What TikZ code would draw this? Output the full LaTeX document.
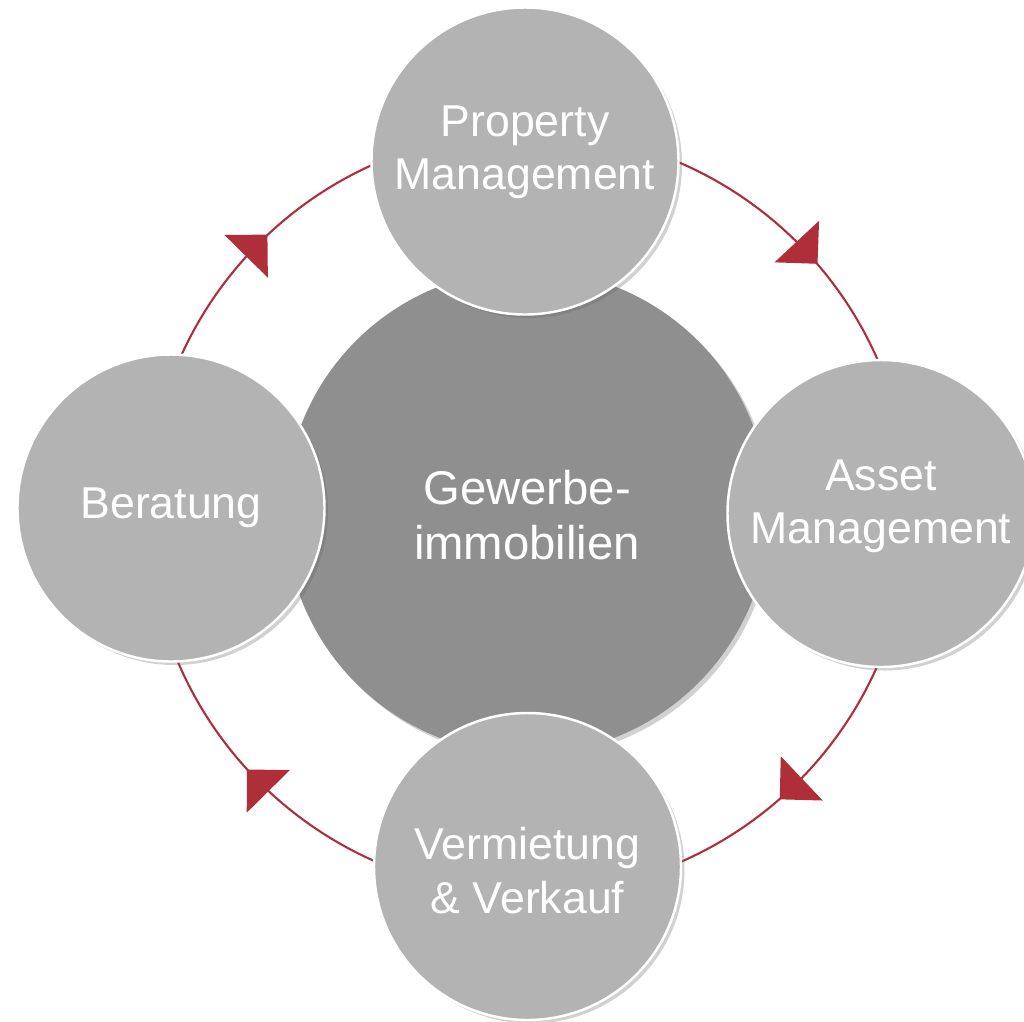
\documentclass[tikz,border=0pt]{standalone}
\usepackage{fontspec}
\setmainfont{Liberation Sans}
\usepackage{xcolor}
\usetikzlibrary{shadows}

\definecolor{ringred}{HTML}{AE2F3A}
\definecolor{outergray}{HTML}{B3B3B3}
\definecolor{coregray}{HTML}{8F8F8F}

\tikzset{
  softshadow/.style={drop shadow={shadow xshift=0.035cm, shadow yshift=-0.035cm, opacity=0.3, fill=black!60}},
  outer/.style={circle, fill=outergray, draw=white, line width=0.7pt, minimum size=3.07cm, inner sep=0pt, softshadow},
  core/.style={circle, fill=coregray, minimum size=4.84cm, inner sep=0pt, softshadow},
  lbl/.style={text=white, align=center, inner sep=0pt, font=\fontsize{12.7}{15.1}\selectfont},
  corelbl/.style={lbl, font=\fontsize{13.45}{15.65}\selectfont},
  ring/.style={draw=ringred, line width=0.6pt},
  tipfill/.style={fill=ringred}
}

\begin{document}
\begin{tikzpicture}
\useasboundingbox (0,0) rectangle (10.24,-10.21);
\coordinate (mid) at (5.285,-5.125);

% ring and arrow heads
\draw[ring] (mid) circle (3.81);
\foreach \a in {135.5,43,-46.5,-135.3}{
  \begin{scope}[shift={(mid)}, shift={(\a:3.81)}, rotate=\a-90]
    \fill[tipfill] (0.152,0) -- (-0.152,0.305) -- (-0.152,-0.305) -- cycle;
  \end{scope}
}

% centre
\node[core] (core) at (5.27,-5.12) {};
\node[corelbl] (coretext) at ([yshift=-0.03cm]core) {Gewerbe-\\immobilien};

% outer circles
\node[outer] (pm) at (5.25,-1.61) {};
\node[lbl] (pmtext) at ([yshift=0.085cm]pm) {Property\\Management};

\node[outer] (asset) at (8.81,-5.135) {};
\node[lbl] (assettext) at ([yshift=0.07cm]asset) {Asset\\Management};

\node[outer] (sale) at (5.275,-8.665) {};
\node[lbl] (saletext) at ([yshift=-0.04cm]sale) {Vermietung\\\& Verkauf};

\node[outer] (advice) at (1.71,-5.08) {};
\node[lbl] (advicetext) at (advice) {Beratung};
\end{tikzpicture}
\end{document}
